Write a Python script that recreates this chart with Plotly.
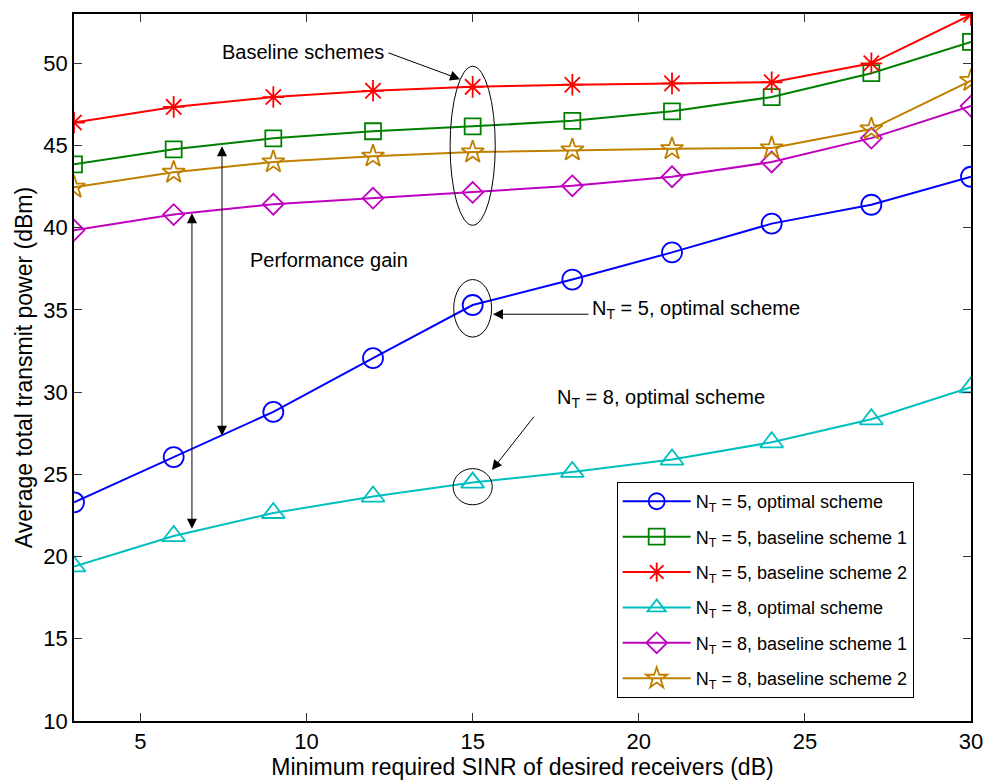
import plotly.graph_objects as go

sinr = [3, 6, 9, 12, 15, 18, 21, 24, 27, 30]
nt5_opt = [23.3, 26.05, 28.8, 32.07, 35.3, 36.85, 38.5, 40.25, 41.4, 43.1]
nt5_b1 = [43.86, 44.77, 45.44, 45.87, 46.17, 46.5, 47.08, 47.95, 49.4, 51.3]
nt5_b2 = [46.4, 47.35, 47.95, 48.33, 48.57, 48.7, 48.78, 48.85, 50.0, 52.95]
nt8_opt = [19.4, 21.25, 22.65, 23.65, 24.5, 25.15, 25.9, 26.95, 28.35, 30.3]
nt8_b1 = [39.85, 40.8, 41.43, 41.8, 42.15, 42.55, 43.1, 44.0, 45.45, 47.4]
nt8_b2 = [42.46, 43.37, 44.0, 44.35, 44.6, 44.72, 44.8, 44.85, 46.0, 48.95]

names = [
    "N<sub>T</sub> = 5, optimal scheme",
    "N<sub>T</sub> = 5, baseline scheme 1",
    "N<sub>T</sub> = 5, baseline scheme 2",
    "N<sub>T</sub> = 8, optimal scheme",
    "N<sub>T</sub> = 8, baseline scheme 1",
    "N<sub>T</sub> = 8, baseline scheme 2",
]
series = [nt5_opt, nt5_b1, nt5_b2, nt8_opt, nt8_b1, nt8_b2]
colors = ["#0000ff", "#008000", "#ff0000", "#00bfbf", "#bf00bf", "#bf8000"]
symbols = ["circle-open", "square-open", "asterisk-open", "triangle-up-open",
           "diamond-open", "star-open"]
sizes = [20, 16, 18, 20, 16, 17]

FONT = "Liberation Sans, Arial, sans-serif"

fig = go.Figure()
for k, (ys, nm, c, s, sz) in enumerate(zip(series, names, colors, symbols, sizes)):
    fig.add_trace(go.Scatter(
        x=sinr, y=ys, name=nm, mode="lines+markers", legendgroup=f"g{k}",
        line=dict(color=c, width=2),
        marker=dict(symbol=s, size=sz, color=c, line=dict(color=c, width=1.8)),
    ))

i15 = sinr.index(15)
ann_font = dict(family=FONT, size=20, color="black")

# ellipses
fig.add_shape(type="circle", xref="x", yref="y", x0=15 - 0.68, x1=15 + 0.68,
              y0=40.15, y1=49.82, line=dict(color="black", width=1))
fig.add_shape(type="circle", xref="x", yref="y", x0=15 - 0.57, x1=15 + 0.57,
              y0=nt5_opt[i15] - 1.95, y1=nt5_opt[i15] + 1.55, line=dict(color="black", width=1))
fig.add_shape(type="circle", xref="x", yref="y", x0=15 - 0.59, x1=15 + 0.59,
              y0=nt8_opt[i15] - 1.35, y1=nt8_opt[i15] + 0.85, line=dict(color="black", width=1))

arrow = dict(showarrow=True, arrowhead=2, arrowsize=2, arrowwidth=1, arrowcolor="black",
             axref="x", ayref="y", xref="x", yref="y", text="")

# Baseline schemes arrow
fig.add_annotation(x=14.62, y=49.03, ax=12.42, ay=50.67, **arrow)
fig.add_annotation(x=12.4, y=50.67, text="Baseline schemes", showarrow=False,
                   xanchor="right", yanchor="middle", font=ann_font, xref="x", yref="y")

# Performance gain double arrows
fig.add_annotation(x=7.455, y=44.95, ax=7.455, ay=27.26, arrowside="end+start", **arrow)
fig.add_annotation(x=6.55, y=40.88, ax=6.55, ay=21.6, arrowside="end+start", **arrow)
fig.add_annotation(x=8.24, y=38.02, text="Performance gain", showarrow=False,
                   xanchor="left", yanchor="middle", font=ann_font, xref="x", yref="y")

# N_T = 5 optimal
fig.add_annotation(x=15.61, y=34.74, ax=18.53, ay=34.74, **arrow)
fig.add_annotation(x=18.53, y=35.0, text="N<sub>T</sub> = 5, optimal scheme", showarrow=False,
                   xanchor="left", yanchor="middle", font=ann_font, xref="x", yref="y")

# N_T = 8 optimal
fig.add_annotation(x=15.58, y=25.26, ax=16.88, ay=28.6, **arrow)
fig.add_annotation(x=17.48, y=29.6, text="N<sub>T</sub> = 8, optimal scheme", showarrow=False,
                   xanchor="left", yanchor="middle", font=ann_font, xref="x", yref="y")

axis_common = dict(showline=True, linecolor="black", linewidth=1.5, mirror="ticks",
                   ticks="inside", ticklen=8, tickcolor="#333", tickwidth=1,
                   showgrid=False, zeroline=False, automargin=False,
                   tickfont=dict(family=FONT, size=22, color="black"))

fig.update_xaxes(range=[3, 30], tickvals=[5, 10, 15, 20, 25, 30],
                 title=dict(text="Minimum required SINR of desired receivers (dB)",
                            font=dict(family=FONT, size=23, color="black"), standoff=2),
                 **axis_common)
fig.update_yaxes(range=[10, 53], tickvals=[10, 15, 20, 25, 30, 35, 40, 45, 50],
                 title=dict(text="Average total transmit power (dBm)",
                            font=dict(family=FONT, size=23, color="black"), standoff=4),
                 **axis_common)

fig.update_layout(
    width=986, height=784,
    margin=dict(l=74, r=15, t=14, b=63),
    plot_bgcolor="white", paper_bgcolor="white",
    font=dict(family=FONT, color="black"),
    legend=dict(x=0.605, y=0.338, xanchor="left", yanchor="top",
                bgcolor="white", bordercolor="black", borderwidth=1,
                font=dict(family=FONT, size=18, color="black"),
                tracegroupgap=9, itemwidth=68),
)

fig.write_html("out.html")
